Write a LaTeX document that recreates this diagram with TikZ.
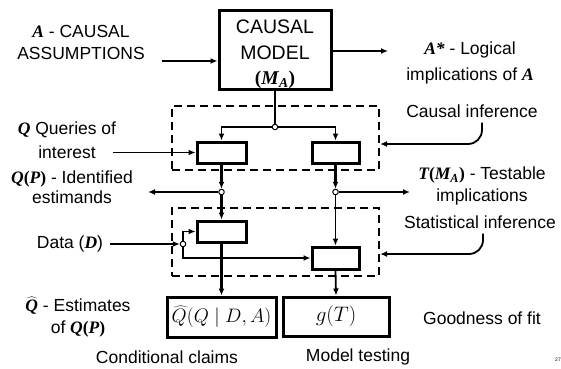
\documentclass[tikz,border=0pt]{standalone}
\usepackage{fix-cm}
\usepackage{fontspec}
\setmainfont{Liberation Sans}
\newfontfamily\tnr{Liberation Serif}
\newcommand{\bi}[1]{{\tnr\bfseries\itshape #1}}
\newcommand{\bu}[1]{{\tnr\bfseries #1}}
\usepackage{tikz}
\usetikzlibrary{
  arrows.meta,
  positioning,
  calc
}

\begin{document}
\begin{tikzpicture}[
  x=1pt, y=-1pt,
  box/.style={
    rectangle,
    draw=black,
    line width=3pt,
    minimum width=#1,
    minimum height=21pt,
    inner sep=0pt,
  },
  box/.default=48pt,
  outbox/.style={
    rectangle,
    draw=black,
    line width=3pt,
    minimum width=#1,
    minimum height=39pt,
    inner sep=0pt,
    font=\fontsize{19.5}{22}\selectfont,
  },
  dashbox/.style={
    rectangle,
    draw=black,
    line width=2.2pt,
    dash pattern=on 8pt off 5pt,
    inner sep=0pt,
  },
  lbl/.style={
    font=\fontsize{17.5}{22}\selectfont,
    align=center,
    inner sep=1pt,
  },
  dot/.style={
    circle,
    draw=black,
    fill=white,
    line width=1pt,
    inner sep=0pt,
    minimum size=5.5pt,
  },
  arrow/.style={-{Latex[length=7pt,width=6pt]}, line width=1.8pt},
  heavy/.style={arrow, line width=3pt},
]
\useasboundingbox (0,0) rectangle (561,368);

% ── Inference frames ──
\node[dashbox, minimum width=207pt, minimum height=64pt] (cinf) at (275.5, 138) {};
\node[dashbox, minimum width=207pt, minimum height=68pt] (sinf) at (275.5, 242) {};

% ── Causal model ──
\node[rectangle, draw=black, line width=3pt, minimum width=112pt, minimum height=79pt] (model) at (275, 49.5) {};
\node[lbl, font=\fontsize{19.5}{25.5}\selectfont] (modeltext) at ([yshift=-5pt]model.center)
  {CAUSAL\\MODEL\\\bu{(\textit{M}\textsubscript{\textit{A}})}};

% ── Inner boxes ──
\node[box=49pt] (qbox1) at (221.5, 152.5) {};
\node[box=47pt] (tbox1) at (335.5, 152.5) {};
\node[box=49pt] (qbox2) at (221.5, 231.5) {};
\node[box=47pt, minimum height=22pt] (tbox2) at (335.5, 258) {};

% ── Results ──
\node[outbox=109pt, minimum height=40pt] (qhat) at (221.5, 317) {$\widehat{Q}(Q\mid D,A)$};
\node[outbox=106pt, font=\fontsize{21}{24}\selectfont] (gfit) at (336, 316.5) {$g(T)$};

% ── Branch points ──
\node[dot] (c0) at (275, 127) {};
\node[dot] (c1) at (221.5, 192) {};
\node[dot] (c2) at (335.5, 192) {};
\node[dot] (c3) at (183, 244) {};

% ── Labels ──
\node[lbl] (lblA) at (81, 42) {\bi{A} - CAUSAL\\ASSUMPTIONS};
\node[lbl, font=\fontsize{17.5}{26}\selectfont] (lblAs) at (470, 63) {\bi{A*} - Logical\\implications of \bi{A}};
\node[lbl] (lblci) at (472, 111) {Causal inference};
\node[lbl, font=\fontsize{17.5}{24}\selectfont] (lblq) at (67, 140) {\bi{Q} Queries of\\interest};
\node[lbl, font=\fontsize{17.5}{20}\selectfont] (lblqp) at (72, 187) {\bi{Q}\bu{(}\bi{P}\bu{)} - Identified\\estimands};
\node[lbl] (lbltm) at (482, 186) {\bi{T}\bu{(}\bi{M}\textsubscript{\bi{A}}\bu{)} - Testable\\implications};
\node[lbl] (lblsi) at (480, 222) {Statistical inference};
\node[lbl] (lbld) at (70, 244) {Data (\bi{D})};
\node[lbl] (lblqh) at (78, 317) {$\widehat{\mbox{\bi{Q}}}$ - Estimates\\of \bi{Q}\bu{(}\bi{P}\bu{)}};
\node[lbl] (lblgf) at (482, 318) {Goodness of fit};
\node[lbl] (lblcc) at (167, 357) {Conditional claims};
\node[lbl] (lblmt) at (358, 357) {Model testing};
\node[font=\tiny] (pgno) at (558, 360) {27};

% ── Free ends ──
\coordinate (ain) at (162, 61);
\coordinate (aout) at (388, 51);
\coordinate (qin) at (113, 152.5);
\coordinate (qpout) at (148, 192);
\coordinate (tout) at (410, 192);
\coordinate (din) at (110, 244);

% ── Arrows ──
\draw[arrow] (ain) -- (ain -| model.west);
\draw[arrow] (model.east |- aout) -- (aout);
\draw[line width=1.8pt] (model.south) -- (c0);
\draw[arrow] (c0) -| (qbox1.north);
\draw[arrow] (c0) -| (tbox1.north);
\draw[arrow] (qin) -- (qbox1.west);
\draw[heavy] (qbox1.south) -- (c1);
\draw[heavy] (tbox1.south) -- (c2);
\draw[arrow] (c1) -- (qpout);
\draw[arrow] (c2) -- (tout);
\draw[heavy] (c1) -- (qbox2.north);
\draw[arrow] (c2) -- (tbox2.north);
\draw[arrow] (din) -- (c3);
\draw[arrow] (c3) |- (qbox2.west);
\draw[arrow] (c3) |- (tbox2.west);
\draw[heavy] (qbox2.south) -- (qhat.north);
\draw[arrow] (tbox2.south) -- (gfit.north);

% ── Frame pointers ──
\draw[arrow, rounded corners=14pt] ([xshift=10pt, yshift=-4pt]lblci.south) |- ([yshift=-6pt]cinf.east);
\draw[arrow, rounded corners=14pt] ([xshift=3pt, yshift=-4pt]lblsi.south) |- ([yshift=-12pt]sinf.east);

\end{tikzpicture}
\end{document}
